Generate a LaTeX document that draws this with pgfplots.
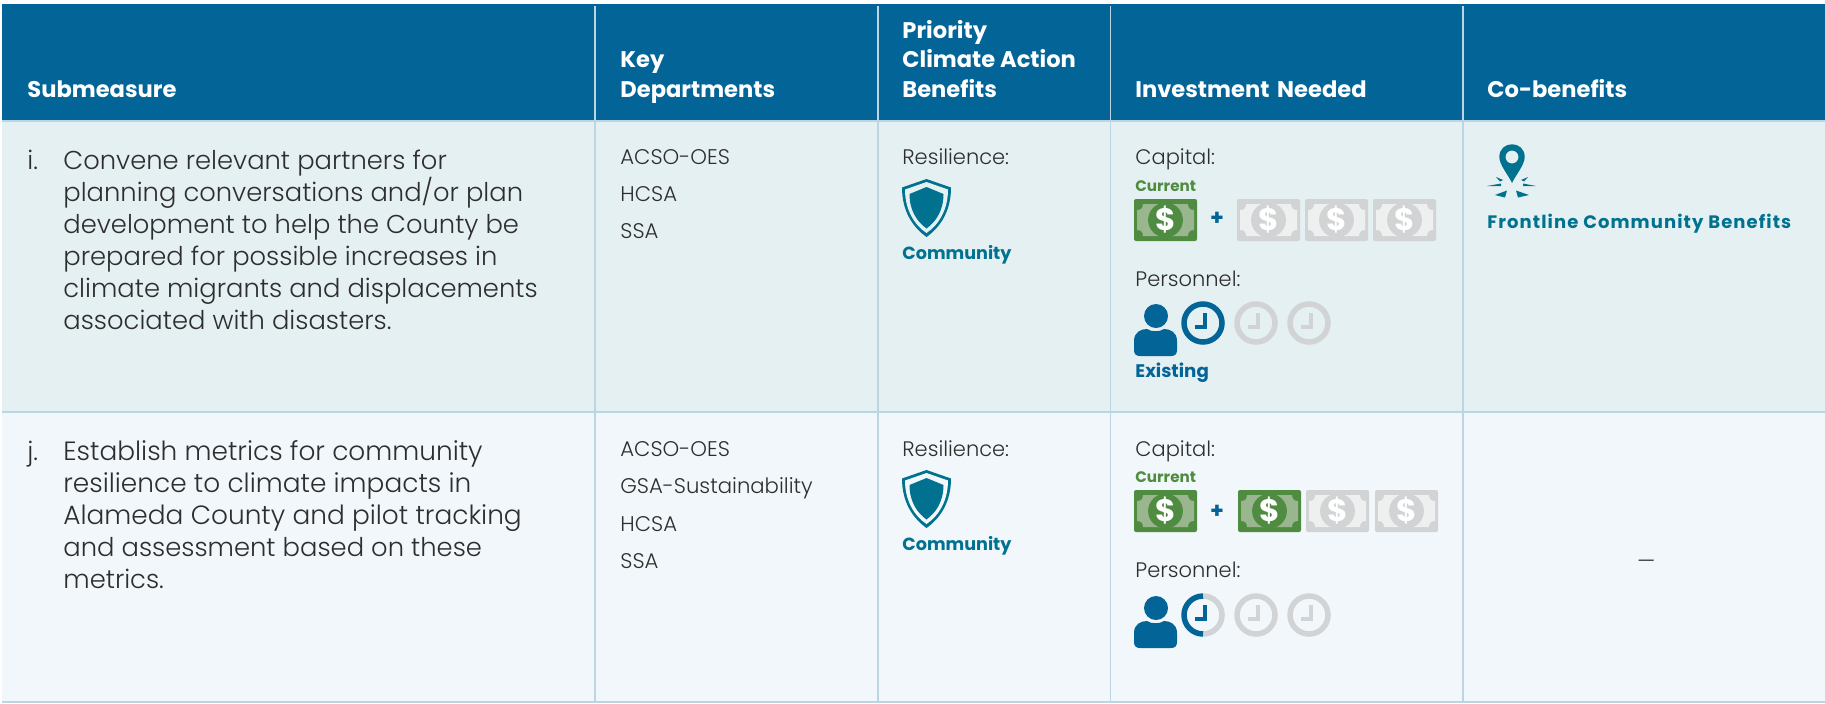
\documentclass[border=0pt]{standalone}
\usepackage{pgfplots}
\usepackage{fontspec}
\pgfplotsset{compat=1.18}
\setmainfont{Poppins}[UprightFont=* Light,BoldFont=* Bold]
\definecolor{hdr}{HTML}{036597}
\definecolor{teal}{HTML}{00728F}
\definecolor{grn}{HTML}{4F8C42}
\definecolor{lgrn}{HTML}{9AB68F}
\definecolor{gry}{HTML}{D1D3D4}
\definecolor{lgry}{HTML}{EEEFEF}
\definecolor{rowa}{HTML}{E5F0F3}
\definecolor{rowb}{HTML}{F1F7FA}
\definecolor{rule}{HTML}{BCD5E2}
\definecolor{txt}{HTML}{2E2E2E}
% text: x, baseline y, size in pt, colour, text
\newcommand{\T}[5]{\node[anchor=base west,inner sep=0pt,text=#4,font=\fontsize{#3}{#3}\selectfont] at (axis cs:#1,#2) {#5};}
\newcommand{\B}[5]{\node[anchor=base west,inner sep=0pt,text=#4,font=\fontsize{#3}{#3}\selectfont\bfseries] at (axis cs:#1,#2) {#5};}
% bill: x, y (top left), dark, light
\newcommand{\money}[4]{%
\fill[#3,rounded corners=1pt] (axis cs:#1,#2) rectangle (axis cs:{#1+63},{#2+42});
\fill[#4] (axis cs:{#1+9},{#2+5}) -- (axis cs:{#1+54},{#2+5}) .. controls (axis cs:{#1+54},{#2+9}) and (axis cs:{#1+56},{#2+11}) .. (axis cs:{#1+60},{#2+11}) -- (axis cs:{#1+60},{#2+31}) .. controls (axis cs:{#1+56},{#2+31}) and (axis cs:{#1+54},{#2+33}) .. (axis cs:{#1+54},{#2+37}) -- (axis cs:{#1+9},{#2+37}) .. controls (axis cs:{#1+9},{#2+33}) and (axis cs:{#1+7},{#2+31}) .. (axis cs:{#1+3},{#2+31}) -- (axis cs:{#1+3},{#2+11}) .. controls (axis cs:{#1+7},{#2+11}) and (axis cs:{#1+9},{#2+9}) .. (axis cs:{#1+9},{#2+5}) -- cycle;
\fill[#3] (axis cs:{#1+31.5},{#2+21}) circle[radius=8.7pt];
\node[inner sep=0pt,text=white,font=\fontsize{15.5}{15.5}\selectfont\bfseries] at (axis cs:{#1+31.5},{#2+21}) {\$};
}
% shield: centre x, top y, background
\newcommand{\shield}[3]{%
\fill[teal] (axis cs:#1,#2) -- (axis cs:{#1+24.5},{#2+8.5}) .. controls (axis cs:{#1+24.5},{#2+32}) and (axis cs:{#1+14},{#2+48}) .. (axis cs:#1,{#2+58}) .. controls (axis cs:{#1-14},{#2+48}) and (axis cs:{#1-24.5},{#2+32}) .. (axis cs:{#1-24.5},{#2+8.5}) -- cycle;
\fill[#3] (axis cs:#1,{#2+3}) -- (axis cs:{#1+21.5},{#2+10.5}) .. controls (axis cs:{#1+21.5},{#2+31}) and (axis cs:{#1+12},{#2+46}) .. (axis cs:#1,{#2+54}) .. controls (axis cs:{#1-12},{#2+46}) and (axis cs:{#1-21.5},{#2+31}) .. (axis cs:{#1-21.5},{#2+10.5}) -- cycle;
\fill[teal] (axis cs:#1,{#2+8}) -- (axis cs:{#1+17},{#2+15}) .. controls (axis cs:{#1+17},{#2+32}) and (axis cs:{#1+9},{#2+43}) .. (axis cs:#1,{#2+49.5}) .. controls (axis cs:{#1-9},{#2+43}) and (axis cs:{#1-17},{#2+32}) .. (axis cs:{#1-17},{#2+15}) -- cycle;
}
% person: left x, head centre y
\newcommand{\person}[2]{%
\fill[hdr] (axis cs:{#1+22},#2) circle[radius=6pt];
\fill[hdr] (axis cs:{#1+6},{#2+40}) .. controls (axis cs:{#1+2},{#2+40}) and (axis cs:#1,{#2+38}) .. (axis cs:#1,{#2+34}) -- (axis cs:#1,{#2+25}) .. controls (axis cs:#1,{#2+16}) and (axis cs:{#1+7},{#2+13}) .. (axis cs:{#1+13},{#2+13}) .. controls (axis cs:{#1+17},{#2+16}) and (axis cs:{#1+26},{#2+16}) .. (axis cs:{#1+30},{#2+13}) .. controls (axis cs:{#1+36},{#2+13}) and (axis cs:{#1+43},{#2+16}) .. (axis cs:{#1+43},{#2+25}) -- (axis cs:{#1+43},{#2+34}) .. controls (axis cs:{#1+43},{#2+38}) and (axis cs:{#1+41},{#2+40}) .. (axis cs:{#1+37},{#2+40}) -- cycle;
}
% clock hands: centre x, y, colour
\newcommand{\hands}[3]{%
\draw[#3,line width=1.6pt] (axis cs:{#1+2},{#2-10}) -- (axis cs:{#1+2},{#2+4}) -- (axis cs:{#1-8},{#2+4});
}
% rectangle through pgfplots
\newcommand{\panel}[5]{\addplot[draw=none,fill=#5,forget plot] coordinates {(#1,#2) (#3,#2) (#3,#4) (#1,#4)} -- cycle;}
\begin{document}
\begin{tikzpicture}
\begin{axis}[
  scale only axis,width=912.5pt,height=351.5pt,
  xmin=0,xmax=1825,ymin=0,ymax=703,y dir=reverse,
  hide axis,clip=false]
% page extent
\path[use as bounding box] (axis cs:0,0) rectangle (axis cs:1825,703);
% panels
\panel{2}{4}{1825}{121}{hdr}
\panel{2}{121}{1825}{412}{rowa}
\panel{2}{412}{1825}{702}{rowb}
% rules
\addplot[rule,line width=.8pt,forget plot] coordinates {(2,412) (1825,412)};
\addplot[rule,line width=.8pt,forget plot] coordinates {(2,702) (1825,702)};
\addplot[rule,line width=.8pt,forget plot] coordinates {(2,121) (1825,121)};
\addplot[rule,line width=.8pt,forget plot] coordinates {(595,6) (595,702)};
\addplot[rule,line width=.8pt,forget plot] coordinates {(878,6) (878,702)};
\addplot[rule,line width=.8pt,forget plot] coordinates {(1110.5,6) (1110.5,702)};
\addplot[rule,line width=.8pt,forget plot] coordinates {(1463,6) (1463,702)};
% header
\B{27}{97}{11.3}{white}{Submeasure}
\B{620}{67.5}{11.3}{white}{Key}
\B{620}{97}{11.3}{white}{Departments}
\B{902}{38.5}{11.3}{white}{Priority}
\B{902}{67.5}{11.3}{white}{Climate Action}
\B{902}{97}{11.3}{white}{Benefits}
\B{1135}{97}{11.3}{white}{Investment\hspace{1.5pt}\ Needed}
\B{1487}{97}{11.3}{white}{Co-benefits}
% submeasure i
\T{27}{169}{12.9}{txt}{i.}
\T{63}{169}{12.9}{txt}{Convene relevant partners for}
\T{63}{201}{12.9}{txt}{planning conversations and/or plan}
\T{63}{233}{12.9}{txt}{development to help the County be}
\T{63}{265}{12.9}{txt}{prepared for possible increases in}
\T{63}{297}{12.9}{txt}{climate migrants and displacements}
\T{63}{329}{12.9}{txt}{associated with disasters.}
% submeasure j
\T{27}{460}{12.9}{txt}{j.}
\T{63}{460}{13.2}{txt}{Establish metrics for community}
\T{63}{492}{13.2}{txt}{resilience to climate impacts in}
\T{63}{524}{13.2}{txt}{Alameda County and pilot tracking}
\T{63}{556}{12.9}{txt}{and assessment based on these}
\T{63}{588}{12.9}{txt}{metrics.}
% departments
\T{620}{164}{10.6}{txt}{ACSO-OES}
\T{620}{201}{10.6}{txt}{HCSA}
\T{620}{238}{10.6}{txt}{SSA}
\T{620}{456}{10.6}{txt}{ACSO-OES}
\T{620}{493}{10.6}{txt}{GSA-Sustainability}
\T{620}{531}{10.6}{txt}{HCSA}
\T{620}{568}{10.6}{txt}{SSA}
% benefits
\T{902}{164}{10.5}{txt}{Resilience:}
\T{902}{456}{10.5}{txt}{Resilience:}
\shield{926.5}{179}{rowa}
\shield{926.5}{470}{rowb}
\B{902}{259}{8.8}{teal}{Community}
\B{902}{550}{8.8}{teal}{Community}
% capital
\T{1135}{164}{10.5}{txt}{Capital:}
\T{1135}{456}{10.5}{txt}{Capital:}
\B{1135}{191}{7.6}{grn}{Current}
\B{1135}{482}{7.6}{grn}{Current}
\money{1134}{199}{grn}{lgrn}
\money{1237}{199}{gry}{lgry}
\money{1305}{199}{gry}{lgry}
\money{1373}{199}{gry}{lgry}
\money{1134}{490}{grn}{lgrn}
\money{1238}{490}{grn}{lgrn}
\money{1306}{490}{gry}{lgry}
\money{1375}{490}{gry}{lgry}
\node[inner sep=0pt,text=hdr,font=\fontsize{11}{11}\selectfont\bfseries] at (axis cs:1217,219) {+};
\node[inner sep=0pt,text=hdr,font=\fontsize{11}{11}\selectfont\bfseries] at (axis cs:1217,512) {+};
% personnel
\T{1135}{286}{10.5}{txt}{Personnel:}
\T{1135}{577}{10.5}{txt}{Personnel:}
\person{1134}{316}
\person{1134}{608}
\addplot[only marks,mark=o,mark size=9.5pt,mark options={draw=gry,line width=2.75pt},forget plot] coordinates {(1256,323) (1309,323) (1256,615) (1309,615)};
\addplot[only marks,mark=o,mark size=9.5pt,mark options={draw=hdr,line width=2.75pt},forget plot] coordinates {(1203,323)};
\draw[gry,line width=2.75pt] (axis cs:1203,596) arc[start angle=90,end angle=-90,radius=9.5pt];
\draw[hdr,line width=2.75pt] (axis cs:1203,596) arc[start angle=90,end angle=270,radius=9.5pt];
\hands{1203}{323}{hdr}
\hands{1256}{323}{gry}
\hands{1309}{323}{gry}
\hands{1203}{615}{hdr}
\hands{1256}{615}{gry}
\hands{1309}{615}{gry}
\B{1135}{377}{9.1}{hdr}{Existing}
% co-benefits
\fill[teal] (axis cs:1499.3,157) .. controls (axis cs:1499.3,140) and (axis cs:1524.7,140) .. (axis cs:1524.7,157) .. controls (axis cs:1524.7,165) and (axis cs:1515,176) .. (axis cs:1512,183) .. controls (axis cs:1509,176) and (axis cs:1499.3,165) .. (axis cs:1499.3,157) -- cycle;
\fill[rowa] (axis cs:1512,157) circle[radius=3.2pt];
\addplot[draw=none,fill=teal,forget plot] coordinates {(1496,177) (1503,180) (1500,181.5)} -- cycle;
\addplot[draw=none,fill=teal,forget plot] coordinates {(1487,186) (1501,183.5) (1501,186)} -- cycle;
\addplot[draw=none,fill=teal,forget plot] coordinates {(1528,177) (1521,180) (1524,181.5)} -- cycle;
\addplot[draw=none,fill=teal,forget plot] coordinates {(1536,186) (1523,183.5) (1523,186)} -- cycle;
\addplot[draw=none,fill=teal,forget plot] coordinates {(1495,195) (1507,190.5) (1505,197.5)} -- cycle;
\addplot[draw=none,fill=teal,forget plot] coordinates {(1529,195) (1516,190.5) (1518,197.5)} -- cycle;
\B{1487}{228}{9}{teal}{\addfontfeature{LetterSpace=6}Frontline Community Benefits}
\T{1637}{568}{10.5}{txt}{—}
\end{axis}
\end{tikzpicture}
\end{document}
